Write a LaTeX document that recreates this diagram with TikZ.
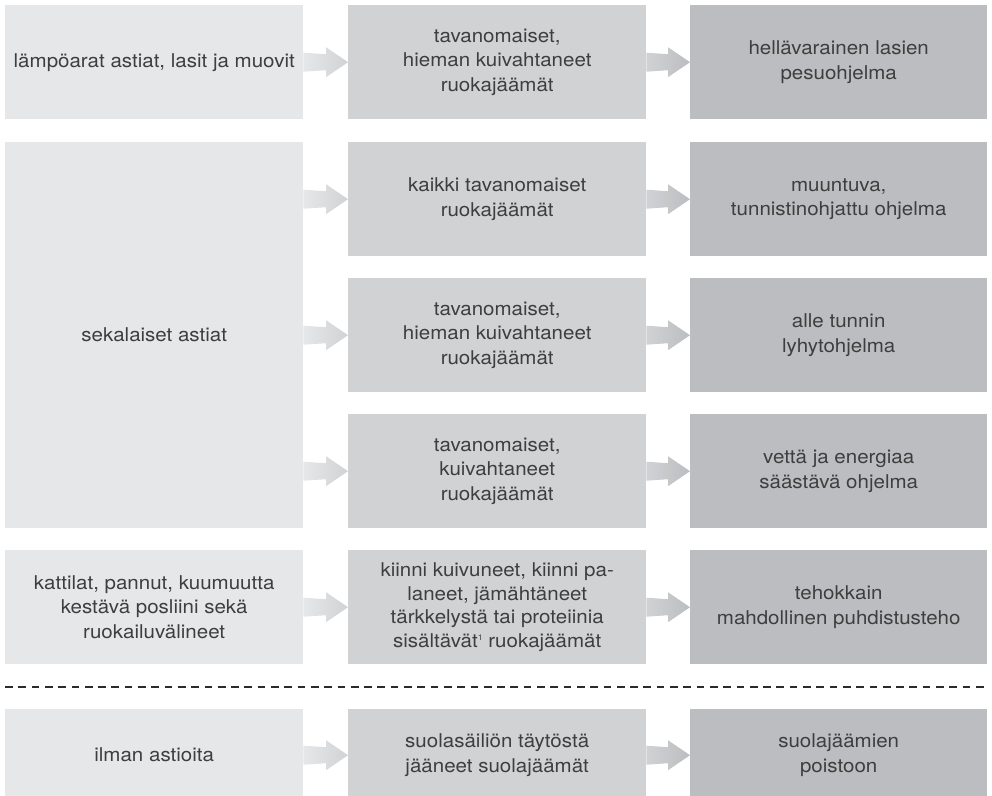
\documentclass[tikz,border=0pt]{standalone}
\usepackage{fontspec}
\setmainfont{TeX Gyre Heros}[FakeStretch=1.08]
\usepackage{xcolor}
\usetikzlibrary{calc}

\definecolor{boxa}{HTML}{E6E7E8}
\definecolor{boxb}{HTML}{D1D2D4}
\definecolor{boxc}{HTML}{BCBDC0}
\definecolor{textgray}{HTML}{3E3E3E}
\definecolor{linegray}{HTML}{2B2B2B}

\newcommand{\footmark}{\raisebox{6.5pt}{\fontsize{8}{8}\selectfont 1}}
\newcommand{\flowarrow}[3][arrowab]{%
  \shade[#1] ($(#3.west -| #2.east)+(0,-9.5)$) -- ($(#3.west)+(-22,-8)$)
  -- ($(#3.west)+(-22,-15)$) -- (#3.west) -- ($(#3.west)+(-22,15)$)
  -- ($(#3.west)+(-22,8)$) -- ($(#3.west -| #2.east)+(0,9.5)$) -- cycle;}

\begin{document}
\begin{tikzpicture}
    [x=1pt,y=-1pt,
    box/.style={anchor=north west,inner sep=0pt,align=center,text=textgray,
      minimum height=114pt,font=\fontsize{19}{24.5}\selectfont},
    colA/.style={box,fill=boxa,minimum width=298pt},
    colB/.style={box,fill=boxb,minimum width=298pt},
    colC/.style={box,fill=boxc,minimum width=297pt},
    arrowab/.style={left color=boxa,right color=boxb},
    arrowbc/.style={left color=boxb,right color=boxc}]
    \useasboundingbox (0,0) rectangle (992,795);
    \clip (0,0) rectangle (992,795);
    %row 1
    \node[colA] (astiat1) at (5,5) {lämpöarat astiat, lasit ja muovit};
    \node[colB] (jaamat1) at (348,5) {tavanomaiset,\\hieman kuivahtaneet\\ruokajäämät};
    \node[colC] (ohjelma1) at (690,5) {hellävarainen lasien\\pesuohjelma};
    %sekalaiset astiat
    \node[colA,minimum height=386pt] (astiat2) at (5,142) {sekalaiset astiat};
    \node[colB] (jaamat2) at (348,142) {kaikki tavanomaiset\\ruokajäämät};
    \node[colC] (ohjelma2) at (690,142) {muuntuva,\\tunnistinohjattu ohjelma};
    \node[colB] (jaamat3) at (348,278) {tavanomaiset,\\hieman kuivahtaneet\\ruokajäämät};
    \node[colC] (ohjelma3) at (690,278) {alle tunnin\\lyhytohjelma};
    \node[colB] (jaamat4) at (348,414) {tavanomaiset,\\kuivahtaneet\\ruokajäämät};
    \node[colC] (ohjelma4) at (690,414) {vettä ja energiaa\\säästävä ohjelma};
    %kattilat
    \node[colA] (astiat3) at (5,550) {kattilat, pannut, kuumuutta\\kestävä posliini sekä\\ruokailuvälineet};
    \node[colB,font=\fontsize{19}{23.5}\selectfont] (jaamat5) at (348,550)
      {kiinni kuivuneet, kiinni pa-\\laneet, jämähtäneet\\tärkkelystä tai proteiinia\\sisältävät\footmark{} ruokajäämät};
    \node[colC] (ohjelma5) at (690,550) {tehokkain\\mahdollinen puhdistusteho};
    %separator
    \draw[line width=2.6pt,linegray,dash pattern=on 7.7pt off 5.6pt] (5,687) -- (987,687);
    %ilman astioita
    \node[colA,minimum height=92pt] (astiat4) at (5,709) {ilman astioita};
    \node[colB,minimum height=92pt] (jaamat6) at (348,709) {suolasäiliön täytöstä\\jääneet suolajäämät};
    \node[colC,minimum height=92pt] (ohjelma6) at (690,709) {suolajäämien\\poistoon};
    %arrows
    \foreach \a/\b in {astiat1/jaamat1,astiat2/jaamat2,astiat2/jaamat3,astiat2/jaamat4,
      astiat3/jaamat5,astiat4/jaamat6}
      {\flowarrow{\a}{\b}}
    \foreach \a/\b in {jaamat1/ohjelma1,jaamat2/ohjelma2,jaamat3/ohjelma3,
      jaamat4/ohjelma4,jaamat5/ohjelma5,jaamat6/ohjelma6}
      {\flowarrow[arrowbc]{\a}{\b}}
\end{tikzpicture}
\end{document}
